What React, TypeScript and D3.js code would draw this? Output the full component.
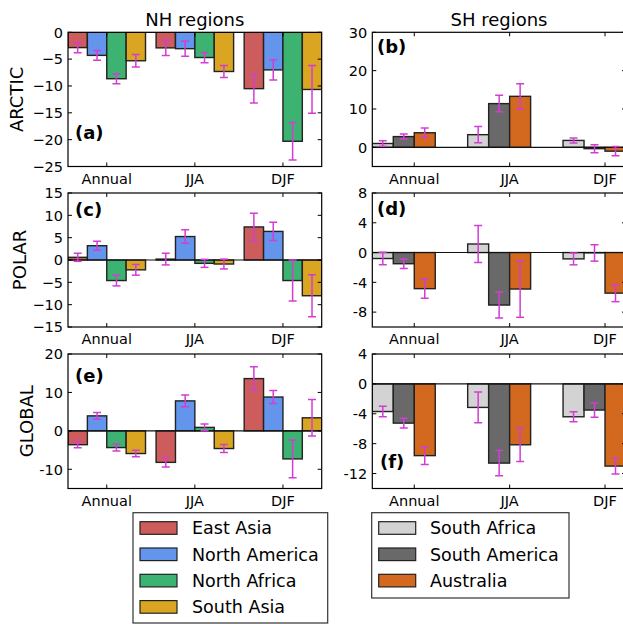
import React from 'react';
import * as d3 from 'd3';

// seasons on the x axis
const seasons = ['Annual', 'JJA', 'DJF'];

// regions and their colours
const nhRegions = ['East Asia', 'North America', 'North Africa', 'South Asia'];
const nhColors = ['#cd5c5c', '#6495ed', '#3cb371', '#daa520'];
const shRegions = ['South Africa', 'South America', 'Australia'];
const shColors = ['#d3d3d3', '#696969', '#d2691e'];

// (a) ARCTIC, NH: one row per region, values for Annual / JJA / DJF
const arcticNH = [
  [-2.85, -2.9, -10.5],
  [-4.3, -3.05, -7.0],
  [-8.65, -4.7, -20.3],
  [-5.3, -7.3, -10.65],
];
const arcticNHErr = [
  [0.95, 1.4, 2.65],
  [0.9, 1.4, 1.9],
  [0.95, 0.95, 3.5],
  [1.15, 1.1, 4.45],
];

// (b) ARCTIC, SH
const arcticSH = [
  [1.0, 3.3, 1.8],
  [2.8, 11.4, -0.35],
  [3.8, 13.3, -1.0],
];
const arcticSHErr = [
  [0.7, 2.1, 0.65],
  [0.65, 2.15, 1.05],
  [1.25, 3.3, 1.2],
];

// (c) POLAR, NH
const polarNH = [
  [0.6, 0.2, 7.4],
  [3.2, 5.25, 6.4],
  [-4.6, -0.75, -4.6],
  [-2.2, -0.9, -8.0],
];
const polarNHErr = [
  [0.9, 1.3, 3.05],
  [1.0, 1.5, 2.05],
  [1.2, 0.9, 4.6],
  [1.2, 1.1, 4.7],
];

// (d) POLAR, SH
const polarSH = [
  [-0.8, 1.15, -0.85],
  [-1.5, -7.05, -0.05],
  [-4.85, -4.9, -5.45],
];
const polarSHErr = [
  [0.85, 2.5, 0.8],
  [0.63, 1.75, 1.1],
  [1.3, 3.8, 1.15],
];

// (e) GLOBAL, NH
const globalNH = [
  [-3.6, -8.2, 13.6],
  [3.9, 7.8, 8.8],
  [-4.35, 0.9, -7.3],
  [-5.9, -4.6, 3.4],
];
const globalNHErr = [
  [0.8, 1.2, 3.05],
  [0.9, 1.5, 1.7],
  [0.9, 0.9, 4.9],
  [0.85, 1.05, 4.75],
];

// (f) GLOBAL, SH
const globalSH = [
  [-3.7, -3.15, -4.4],
  [-5.25, -10.6, -3.5],
  [-9.6, -8.15, -11.0],
];
const globalSHErr = [
  [0.7, 2.05, 0.68],
  [0.65, 1.7, 0.95],
  [1.2, 2.25, 1.07],
];

// y axis ticks per panel
const ticksA = [0, -5, -10, -15, -20, -25];
const ticksB = [0, 10, 20, 30];
const ticksC = [15, 10, 5, 0, -5, -10, -15];
const ticksD = [8, 4, 0, -4, -8];
const ticksE = [20, 10, 0, -10];
const ticksF = [4, 0, -4, -8, -12];

const W = 623;
const H = 624;
const FONT = 'DejaVu Sans, sans-serif';
const ERR = '#d43cd4';
const BW = 0.22; // bar width in group units

const cols = {
  nh: { x0: 68, x1: 321.7 },
  sh: { x0: 372.3, x1: 626 },
};
const rows = [
  { y0: 32.3, y1: 166.5 },
  { y0: 193, y1: 327 },
  { y0: 354, y1: 488.5 },
];

type PanelProps = {
  side: 'nh' | 'sh';
  row: number;
  values: number[][];
  errs: number[][];
  colors: string[];
  domain: [number, number];
  ticks: number[];
  unicodeMinus: boolean;
  label: string;
  labelPos: [number, number];
};

const Panel = ({ side, row, values, errs, colors, domain, ticks, unicodeMinus, label, labelPos }: PanelProps) => {
  const { x0, x1 } = cols[side];
  const { y0, y1 } = rows[row];
  const n = values.length;
  // matplotlib style: bars start at g - 2w, xlim tight to outer bar edges
  const x = d3.scaleLinear()
    .domain([-2 * BW, 2 + (n - 2) * BW])
    .range([x0, x1]);
  const y = d3.scaleLinear().domain(domain).range([y1, y0]);
  const fmt = (v: number) => {
    const s = String(Math.abs(v));
    if (v < 0) return (unicodeMinus ? '\u2212' : '-') + s;
    return s;
  };
  const clipId = `clip-${side}-${row}`;

  return (
    <g>
      <defs>
        <clipPath id={clipId}>
          <rect x={x0} y={y0} width={x1 - x0} height={y1 - y0} />
        </clipPath>
      </defs>
      <g clipPath={`url(#${clipId})`}>
        {values.map((series, i) =>
          series.map((v, s) => {
            const left = x(s + (i - 2) * BW);
            const right = x(s + (i - 1) * BW);
            const top = y(Math.max(0, v));
            const bot = y(Math.min(0, v));
            return (
              <rect
                key={`b${i}-${s}`}
                x={left}
                y={top}
                width={right - left}
                height={Math.max(bot - top, 0.01)}
                fill={colors[i]}
                stroke="#222"
                strokeWidth={1.4}
              />
            );
          })
        )}
        <line x1={x0} x2={x1} y1={y(0)} y2={y(0)} stroke="#111" strokeWidth={1.1} />
        {values.map((series, i) =>
          series.map((v, s) => {
            const cx = x(s + (i - 1.5) * BW);
            const e = errs[i][s];
            return (
              <g key={`e${i}-${s}`} stroke={ERR} strokeWidth={1.5}>
                <line x1={cx} x2={cx} y1={y(v + e)} y2={y(v - e)} />
                <line x1={cx - 4} x2={cx + 4} y1={y(v + e)} y2={y(v + e)} />
                <line x1={cx - 4} x2={cx + 4} y1={y(v - e)} y2={y(v - e)} />
              </g>
            );
          })
        )}
      </g>
      {/* ticks, inward on all sides */}
      {ticks.map((t) => (
        <g key={`yt${t}`}>
          <line x1={x0} x2={x0 + 4} y1={y(t)} y2={y(t)} stroke="#000" />
          <line x1={x1 - 4} x2={x1} y1={y(t)} y2={y(t)} stroke="#000" />
          <text
            x={x0 - 5}
            y={y(t)}
            dy="0.36em"
            textAnchor="end"
            fontSize={14.5}
            fontFamily={FONT}
            fill="#000"
          >
            {fmt(t)}
          </text>
        </g>
      ))}
      {seasons.map((name, s) => (
        <g key={`xt${name}`}>
          <line x1={x(s)} x2={x(s)} y1={y1} y2={y1 - 4} stroke="#000" />
          <line x1={x(s)} x2={x(s)} y1={y0} y2={y0 + 4} stroke="#000" />
          <text
            x={x(s)}
            y={y1 + 17}
            textAnchor="middle"
            fontSize={14.5}
            fontFamily={FONT}
            fill="#000"
          >
            {name}
          </text>
        </g>
      ))}
      <rect x={x0} y={y0} width={x1 - x0} height={y1 - y0} fill="none" stroke="#000" strokeWidth={1.2} />
      <text x={labelPos[0]} y={labelPos[1]} fontSize={18} fontWeight="bold" fontFamily={FONT} fill="#000">
        {label}
      </text>
    </g>
  );
};

const Legend = ({ names, colors, x0, x1, y0, y1, textX }: {
  names: string[]; colors: string[]; x0: number; x1: number; y0: number; y1: number; textX: number;
}) => (
  <g>
    <rect x={x0} y={y0} width={x1 - x0} height={y1 - y0} fill="#fff" stroke="#333" strokeWidth={1.2} />
    {names.map((name, i) => {
      const cy = 528 + i * 26.3;
      return (
        <g key={name}>
          <rect x={x0 + 7} y={cy - 6.3} width={37} height={12.6} fill={colors[i]} stroke="#222" strokeWidth={1.2} />
          <text x={textX} y={cy + 6.3} fontSize={17.5} fontFamily={FONT} fill="#000">
            {name}
          </text>
        </g>
      );
    })}
  </g>
);

const App = () => {
  const rowLabels = [
    { text: 'ARCTIC', x: 23.3, y: 99.4 },
    { text: 'POLAR', x: 26, y: 260 },
    { text: 'GLOBAL', x: 32.7, y: 421.2 },
  ];
  return (
    <svg
      width={W}
      height={H}
      viewBox={`0 0 ${W} ${H}`}
      style={{ position: 'absolute', left: 0, top: 0, background: '#fff' }}
    >
      <rect width={W} height={H} fill="#fff" />
      <text x={(cols.nh.x0 + cols.nh.x1) / 2} y={26} textAnchor="middle" fontSize={18} fontFamily={FONT}>
        NH regions
      </text>
      <text x={499} y={26} textAnchor="middle" fontSize={18} fontFamily={FONT}>
        SH regions
      </text>
      {rowLabels.map((r) => (
        <text
          key={r.text}
          transform={`translate(${r.x},${r.y}) rotate(-90)`}
          textAnchor="middle"
          fontSize={18}
          fontFamily={FONT}
        >
          {r.text}
        </text>
      ))}
      <Panel side="nh" row={0} values={arcticNH} errs={arcticNHErr} colors={nhColors}
        domain={[-25, 0]} ticks={ticksA} unicodeMinus label="(a)" labelPos={[75, 139]} />
      <Panel side="sh" row={0} values={arcticSH} errs={arcticSHErr} colors={shColors}
        domain={[-5, 30]} ticks={ticksB} unicodeMinus label="(b)" labelPos={[377, 53]} />
      <Panel side="nh" row={1} values={polarNH} errs={polarNHErr} colors={nhColors}
        domain={[-15, 15]} ticks={ticksC} unicodeMinus label="(c)" labelPos={[75, 216]} />
      <Panel side="sh" row={1} values={polarSH} errs={polarSHErr} colors={shColors}
        domain={[-10, 8]} ticks={ticksD} unicodeMinus={false} label="(d)" labelPos={[377, 215]} />
      <Panel side="nh" row={2} values={globalNH} errs={globalNHErr} colors={nhColors}
        domain={[-15, 20]} ticks={ticksE} unicodeMinus={false} label="(e)" labelPos={[75, 382]} />
      <Panel side="sh" row={2} values={globalSH} errs={globalSHErr} colors={shColors}
        domain={[-14, 4]} ticks={ticksF} unicodeMinus={false} label="(f)" labelPos={[380, 468]} />
      <Legend names={nhRegions} colors={nhColors} x0={133} x1={327.7} y0={512.7} y1={623} textX={192} />
      <Legend names={shRegions} colors={shColors} x0={371.7} x1={569} y0={512.7} y1={598} textX={430} />
    </svg>
  );
};

export default App;
